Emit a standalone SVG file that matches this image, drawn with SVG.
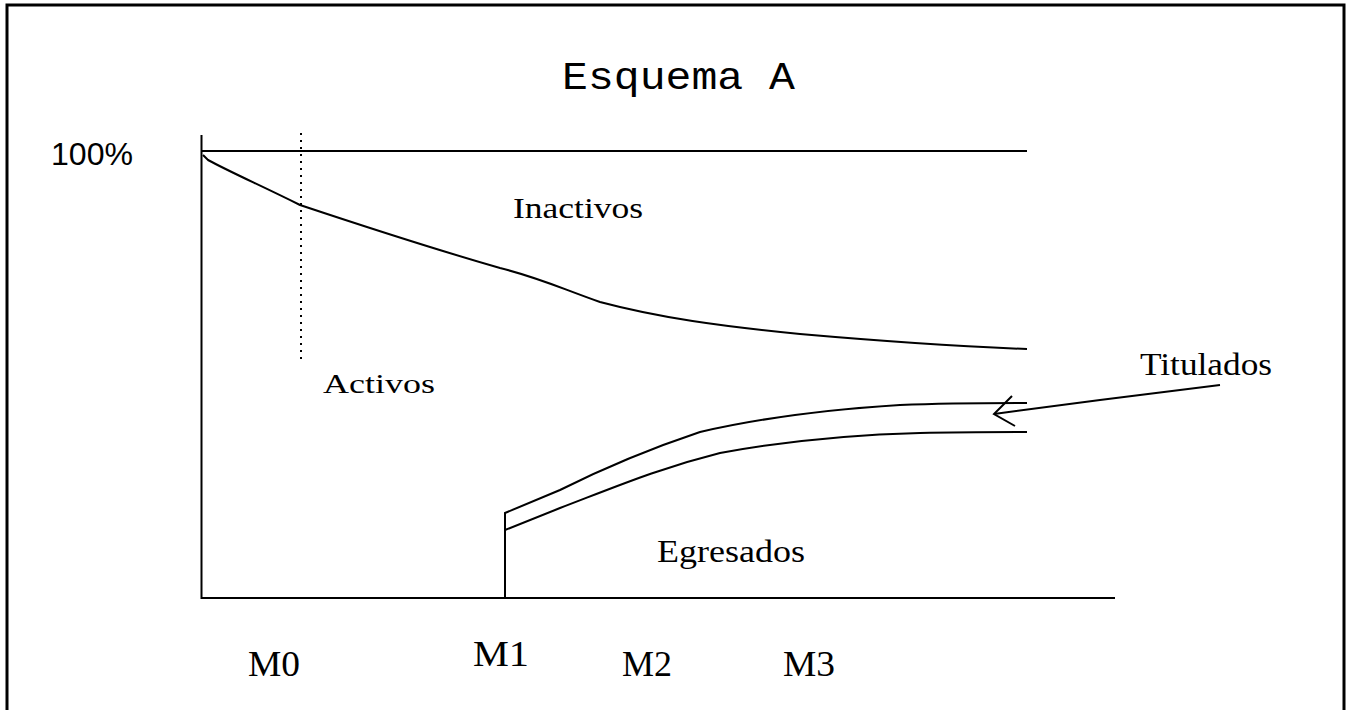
<svg xmlns="http://www.w3.org/2000/svg" width="1350" height="710" viewBox="0 0 1350 710">
<style>
.ln{fill:none;stroke:#000;stroke-width:2}
.sf{font-family:"Liberation Serif",serif;fill:#000}
.mo{font-family:"Liberation Mono",monospace;fill:#000}
.ss{font-family:"Liberation Sans",sans-serif;fill:#000}
</style>
<rect width="1350" height="710" fill="#fff"/>
<g id="frame"><path d="M7,720 V5 H1344 V720" fill="none" stroke="#000" stroke-width="3"/></g>
<g id="title"><text class="mo" x="562" y="89" font-size="38" textLength="233" lengthAdjust="spacingAndGlyphs">Esquema A</text></g>
<g id="axes">
<line class="ln" x1="201.5" y1="135" x2="201.5" y2="599"/>
<line class="ln" x1="201" y1="598" x2="1115" y2="598"/>
<line class="ln" x1="201" y1="151" x2="1027" y2="151"/>
<line class="ln" x1="301" y1="133" x2="301" y2="362" stroke-dasharray="2,5"/>
</g>
<g id="label-100"><text class="ss" x="51" y="165" font-size="31" textLength="82" lengthAdjust="spacingAndGlyphs">100%</text></g>
<g id="curves">
<path class="ln" d="M203,155 L208,160 C230,172 262,186 300,205 C360,225 420,245 500,268 C540,278 560,288 600,302 C660,318 720,326 800,334 C880,341 950,346 1027,349"/>
<path class="ln" d="M505,599 V513 L560,490 C600,470 640,452 700,432 C760,418 820,410 900,405 C950,403 990,403 1027,403"/>
<path class="ln" d="M505,530 L560,508 C620,485 660,468 720,453 C780,442 840,435 920,433 C960,432 990,432 1027,432"/>
</g>
<g id="arrow">
<path class="ln" d="M1220,385 L1100,400 L994,414"/>
<path class="ln" d="M1012,396 L994,414 L1015,426"/>
</g>
<g id="label-inactivos"><text class="sf" x="513" y="218" font-size="30" textLength="130" lengthAdjust="spacingAndGlyphs">Inactivos</text></g>
<g id="label-activos"><text class="sf" x="323" y="393" font-size="28" textLength="112" lengthAdjust="spacingAndGlyphs">Activos</text></g>
<g id="label-titulados"><text class="sf" x="1140" y="375" font-size="32" textLength="132" lengthAdjust="spacingAndGlyphs">Titulados</text></g>
<g id="label-egresados"><text class="sf" x="657" y="562" font-size="32" textLength="148" lengthAdjust="spacingAndGlyphs">Egresados</text></g>
<g id="label-m0"><text class="sf" x="248" y="676" font-size="36" textLength="52" lengthAdjust="spacingAndGlyphs">M0</text></g>
<g id="label-m1"><text class="sf" x="473" y="666" font-size="36" textLength="56" lengthAdjust="spacingAndGlyphs">M1</text></g>
<g id="label-m2"><text class="sf" x="622" y="676" font-size="36" textLength="50" lengthAdjust="spacingAndGlyphs">M2</text></g>
<g id="label-m3"><text class="sf" x="783" y="676" font-size="36" textLength="52" lengthAdjust="spacingAndGlyphs">M3</text></g>
</svg>
